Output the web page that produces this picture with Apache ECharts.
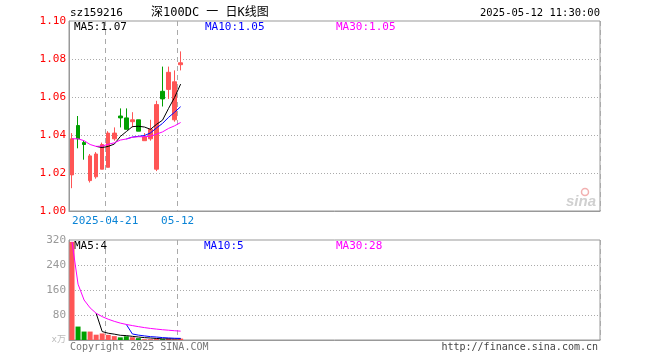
<!DOCTYPE html>
<html>
<head>
<meta charset="utf-8">
<script src="https://cdn.jsdelivr.net/npm/echarts@6/dist/echarts.min.js"></script>
<style>html,body{margin:0;padding:0;background:#fff}#c{width:660px;height:360px}</style>
</head>
<body>
<div id="c"></div>
<script>
// ---- data ----
const dates = ['2025-04-11','2025-04-14','2025-04-15','2025-04-16','2025-04-17','2025-04-18',
  '2025-04-21','2025-04-22','2025-04-23','2025-04-24','2025-04-25','2025-04-28','2025-04-29',
  '2025-04-30','2025-05-06','2025-05-07','2025-05-08','2025-05-09','2025-05-12'];
const openP  = [1.019, 1.045, 1.036, 1.016, 1.018, 1.022, 1.023, 1.038, 1.050, 1.049, 1.047, 1.048, 1.037, 1.038, 1.022, 1.063, 1.064, 1.048, 1.077];
const closeP = [1.038, 1.038, 1.035, 1.029, 1.030, 1.035, 1.041, 1.041, 1.049, 1.043, 1.048, 1.042, 1.039, 1.043, 1.056, 1.059, 1.073, 1.068, 1.078];
const highP  = [1.041, 1.050, 1.037, 1.030, 1.031, 1.036, 1.042, 1.044, 1.054, 1.054, 1.052, 1.048, 1.041, 1.048, 1.058, 1.076, 1.076, 1.074, 1.084];
const lowP   = [1.012, 1.033, 1.027, 1.015, 1.017, 1.022, 1.023, 1.037, 1.044, 1.043, 1.044, 1.042, 1.037, 1.037, 1.021, 1.055, 1.059, 1.047, 1.074];
const volume = [314, 43, 27, 27, 17, 21, 16.5, 12.5, 8.5, 12, 9, 6, 2.5, 2.5, 5, 2.5, 5.5, 2.5, 4.5];
const tickDates  = ['2025-04-21', '2025-05-12'];
const tickLabels = ['2025-04-21', '05-12'];
const priceTicks = [1.00, 1.02, 1.04, 1.06, 1.08, 1.10];
const volTicks   = [0, 80, 160, 240, 320];
const symbol = 'sz159216';
const titleText = '深100DC 一 日K线图';
const timeText = '2025-05-12 11:30:00';

// ---- layout / style config ----
const slotCount = 88;
const RED = '#ff5555', GREEN = '#00a000';
const MONO = 'DejaVu Sans Mono, Noto Sans CJK SC';

// moving averages (partial window allowed for MA30, as in the picture)
function ma(arr, n, partial) {
  return arr.map((_, i) => {
    if (i < n - 1 && !partial) return '-';
    const s = arr.slice(Math.max(0, i - n + 1), i + 1);
    return s.reduce((a, b) => a + b, 0) / s.length;
  });
}
const pMA5 = ma(closeP, 5), pMA10 = ma(closeP, 10), pMA30 = ma(closeP, 30, true);
const vMA5 = ma(volume, 5), vMA10 = ma(volume, 10), vMA30 = ma(volume, 30, true);
const last = a => a[a.length - 1];

const candles = dates.map((d, i) => [openP[i], closeP[i], lowP[i], highP[i]]);
const isUp = i => closeP[i] >= openP[i];
const tickIdx = tickDates.map(d => dates.indexOf(d));

const chart = echarts.init(document.getElementById('c'), null, {renderer: 'canvas'});

function xAxisFor(gi, withLabels) {
  return {
    type: 'category', gridIndex: gi, data: dates, max: slotCount - 1, boundaryGap: true,
    axisLine: {show: true, lineStyle: {color: '#999'}},
    axisTick: {show: false},
    axisLabel: withLabels ? {
      show: true,
      interval: (i) => tickIdx.includes(i),
      formatter: (v) => tickLabels[tickDates.indexOf(v)] || '',
      color: '#0a84d6', fontFamily: MONO, fontSize: 11, margin: 5,
      padding: [0, 6, 0, 0]
    } : {show: false},
    splitLine: {show: true, interval: (i) => tickIdx.includes(i),
      lineStyle: {color: '#aaa', type: [5, 4], width: 1}}
  };
}

function maLine(name, data, color, xi) {
  return {name, type: 'line', data, xAxisIndex: xi, yAxisIndex: xi, symbol: 'none',
    lineStyle: {color, width: 1}, itemStyle: {color}, silent: true, z: 3};
}

function txt(x, y, text, color, size, align) {
  return {type: 'text', x, y, style: {text, fill: color, font: size + 'px ' + MONO,
    textAlign: align || 'left', textVerticalAlign: 'middle'}, silent: true};
}

const option = {
  animation: false,
  backgroundColor: '#fff',
  grid: [
    {left: 69, right: 60, top: 21, height: 190, show: true, borderColor: '#999', borderWidth: 1},
    {left: 69, right: 60, top: 240, height: 100, show: true, borderColor: '#999', borderWidth: 1}
  ],
  xAxis: [xAxisFor(0, true), xAxisFor(1, false)],
  yAxis: [
    {type: 'value', gridIndex: 0, min: priceTicks[0], max: priceTicks[priceTicks.length - 1],
      interval: priceTicks[1] - priceTicks[0],
      axisLine: {show: true, lineStyle: {color: '#999'}}, axisTick: {show: false},
      axisLabel: {color: '#ff0000', fontFamily: MONO, fontSize: 11, margin: 3,
        formatter: v => v.toFixed(2)},
      splitLine: {show: true, showMinLine: false, showMaxLine: false,
        lineStyle: {color: '#aaa', type: [1, 2]}}},
    {type: 'value', gridIndex: 1, min: volTicks[0], max: volTicks[volTicks.length - 1],
      interval: volTicks[1] - volTicks[0],
      axisLine: {show: true, lineStyle: {color: '#999'}}, axisTick: {show: false},
      axisLabel: {fontFamily: MONO, fontSize: 11, margin: 3,
        formatter: v => v === 0 ? '{u|x万}' : String(v), color: '#999',
        rich: {u: {color: '#bbb', fontSize: 9, fontFamily: MONO}}},
      splitLine: {show: true, showMinLine: false, showMaxLine: false,
        lineStyle: {color: '#aaa', type: [1, 2]}}}
  ],
  series: [
    {type: 'candlestick', data: candles, xAxisIndex: 0, yAxisIndex: 0, barWidth: 4,
      itemStyle: {color: RED, color0: GREEN, borderColor: RED, borderColor0: GREEN, borderWidth: 1}},
    maLine('MA5', pMA5, '#000000', 0),
    maLine('MA10', pMA10, '#0000ff', 0),
    maLine('MA30', pMA30, '#ff00ff', 0),
    {type: 'bar', data: volume, xAxisIndex: 1, yAxisIndex: 1, barWidth: 5,
      itemStyle: {color: p => isUp(p.dataIndex) ? RED : GREEN}},
    maLine('VMA5', vMA5, '#000000', 1),
    maLine('VMA10', vMA10, '#0000ff', 1),
    maLine('VMA30', vMA30, '#ff00ff', 1)
  ],
  graphic: [
    txt(70, 13, symbol, '#000', 11),
    txt(151, 13, titleText, '#000', 12),
    txt(600, 13, timeText, '#000', 10.5, 'right'),
    txt(74, 27, 'MA5:' + last(pMA5).toFixed(2), '#000', 11),
    txt(205, 27, 'MA10:' + last(pMA10).toFixed(2), '#0000ff', 11),
    txt(336, 27, 'MA30:' + last(pMA30).toFixed(2), '#ff00ff', 11),
    txt(74, 246, 'MA5:' + Math.round(last(vMA5)), '#000', 11),
    txt(204, 246, 'MA10:' + Math.round(last(vMA10)), '#0000ff', 11),
    txt(336, 246, 'MA30:' + Math.round(last(vMA30)), '#ff00ff', 11),
    txt(70, 347, 'Copyright 2025 SINA.COM', '#777', 10),
    txt(598, 347, 'http://finance.sina.com.cn', '#444', 10, 'right'),
    {type: 'text', x: 566, y: 202, silent: true,
      style: {text: 'sina', fill: '#d0d0d0', font: 'italic bold 15px Liberation Sans', textVerticalAlign: 'middle'}},
    {type: 'circle', shape: {cx: 585, cy: 192, r: 3.5}, silent: true,
      style: {fill: 'none', stroke: '#f2b0b0', lineWidth: 1.5}}
  ]
};
chart.setOption(option);
</script>
</body>
</html>
